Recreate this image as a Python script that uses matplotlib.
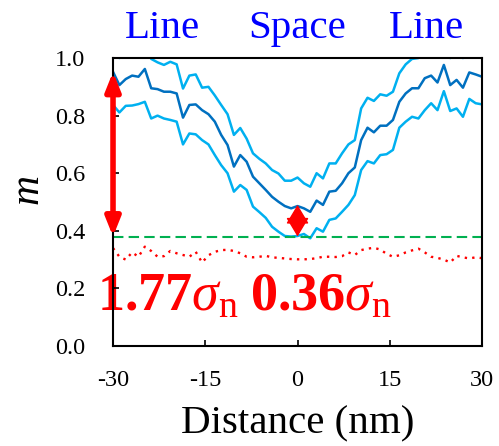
import numpy as np
import matplotlib
matplotlib.use('Agg')
import matplotlib.pyplot as plt

plt.rcParams['font.family'] = ['Liberation Serif', 'DejaVu Serif']
plt.rcParams['axes.unicode_minus'] = False
plt.rcParams['mathtext.fontset'] = 'custom'
plt.rcParams['mathtext.rm'] = 'Liberation Serif'
plt.rcParams['mathtext.it'] = 'Liberation Serif:italic'
plt.rcParams['mathtext.bf'] = 'Liberation Serif:bold'

# mean profile (dark blue) and +/- envelope (light blue)
center = [0.952, 0.906, 0.927, 0.939, 0.935, 0.962, 0.895, 0.892, 0.883, 0.883,
          0.877, 0.793, 0.837, 0.839, 0.819, 0.805, 0.779, 0.733, 0.698, 0.623,
          0.663, 0.640, 0.588, 0.565, 0.542, 0.518, 0.501, 0.486, 0.478, 0.486,
          0.478, 0.466, 0.505, 0.490, 0.536, 0.539, 0.565, 0.600, 0.620, 0.715,
          0.758, 0.742, 0.765, 0.765, 0.785, 0.848, 0.877, 0.895, 0.895, 0.930,
          0.939, 0.915, 0.976, 0.906, 0.924, 0.897, 0.950, 0.943, 0.935]
upper = [1.050, 1.000, 1.025, 1.040, 1.035, 1.060, 0.997, 0.985, 0.976, 0.987,
         0.978, 0.894, 0.939, 0.943, 0.897, 0.900, 0.870, 0.837, 0.805, 0.733,
         0.757, 0.720, 0.669, 0.650, 0.634, 0.611, 0.599, 0.574, 0.574, 0.585,
         0.565, 0.553, 0.600, 0.582, 0.634, 0.634, 0.669, 0.700, 0.715, 0.825,
         0.862, 0.851, 0.874, 0.869, 0.883, 0.947, 0.978, 0.997, 1.000, 1.030,
         1.040, 1.015, 1.075, 1.000, 1.020, 1.000, 1.050, 1.040, 1.035]
lower = [0.837, 0.811, 0.834, 0.835, 0.840, 0.848, 0.790, 0.800, 0.790, 0.785,
         0.779, 0.700, 0.738, 0.735, 0.715, 0.700, 0.663, 0.628, 0.600, 0.536,
         0.559, 0.542, 0.484, 0.465, 0.445, 0.414, 0.397, 0.382, 0.380, 0.382,
         0.389, 0.374, 0.409, 0.397, 0.438, 0.443, 0.466, 0.490, 0.524, 0.611,
         0.642, 0.634, 0.663, 0.666, 0.681, 0.758, 0.779, 0.796, 0.790, 0.819,
         0.843, 0.819, 0.885, 0.816, 0.825, 0.796, 0.858, 0.843, 0.839]
# noise level (red dotted)
noise = [0.340, 0.310, 0.300, 0.325, 0.310, 0.345, 0.330, 0.310, 0.312, 0.330,
         0.322, 0.316, 0.310, 0.327, 0.290, 0.315, 0.327, 0.333, 0.334, 0.330,
         0.322, 0.310, 0.308, 0.310, 0.313, 0.308, 0.306, 0.304, 0.302, 0.301,
         0.301, 0.302, 0.305, 0.310, 0.310, 0.309, 0.312, 0.325, 0.316, 0.333,
         0.338, 0.341, 0.335, 0.320, 0.310, 0.315, 0.325, 0.332, 0.338, 0.325,
         0.310, 0.306, 0.300, 0.290, 0.313, 0.308, 0.304, 0.308, 0.305]
threshold = 0.38
dip_min = 0.49
dist = np.linspace(-30, 30, len(center))

fig = plt.figure(figsize=(4.99, 4.46), dpi=100)
ax = fig.add_axes([0.2265, 0.2242, 0.7395, 0.6457])

ax.plot(dist, upper, color='#00B0F0', lw=1.8)
ax.plot(dist, lower, color='#00B0F0', lw=1.8)
ax.plot(dist, center, color='#0070C0', lw=1.8)
ax.axhline(threshold, color='#00B050', lw=1.5, dashes=(5, 2.5))
ax.plot(dist, noise, color='#FF0000', lw=1.7, linestyle=(0, (1, 2.2)))

# contrast arrows
ax.annotate('', xy=(-30, center[0]), xytext=(-30, threshold),
            arrowprops=dict(arrowstyle='<|-|>,head_length=0.55,head_width=0.22',
                            color='#FF0000', lw=4, mutation_scale=20,
                            shrinkA=0, shrinkB=0))
mid = (dip_min + threshold) / 2
for tip in [dip_min, threshold]:
    ax.annotate('', xy=(0, tip), xytext=(0, mid),
                arrowprops=dict(arrowstyle='-|>,head_length=0.6,head_width=0.36',
                                color='#FF0000', lw=1, mutation_scale=20,
                                shrinkA=0, shrinkB=0))

ax.text(-32.6, 0.125, r'$\mathbf{1.77}\sigma_{\mathrm{n}}$', color='#FF0000',
        fontsize=39, ha='left', va='baseline', zorder=1)
ax.text(-7.7, 0.125, r'$\mathbf{0.36}\sigma_{\mathrm{n}}$', color='#FF0000',
        fontsize=39, ha='left', va='baseline', zorder=1)

for xx, lab in zip([-22, 0, 21], ['Line', 'Space', 'Line']):
    ax.text(xx, 1.07, lab, color='#0000FF', fontsize=29.5, ha='center',
            va='baseline', clip_on=False)

ax.set_xlim(-30, 30)
ax.set_ylim(0, 1.0)
ax.set_xticks([-30, -15, 0, 15, 30])
ax.set_yticks([0.0, 0.2, 0.4, 0.6, 0.8, 1.0])
ax.set_yticklabels(['0.0', '0.2', '0.4', '0.6', '0.8', '1.0'])
ax.tick_params(direction='in', length=4, width=1.2, labelsize=17.5)
ax.tick_params(axis='x', pad=17)
ax.tick_params(axis='y', pad=20)
for s in ax.spines.values():
    s.set_linewidth(1.5)

ax.set_xlabel('Distance (nm)', fontsize=29.5, labelpad=11)
ax.text(-0.233, 0.545, 'm', style='italic', fontsize=30, rotation=90,
        ha='center', va='center', transform=ax.transAxes)

fig.savefig('out.png', dpi=100)
